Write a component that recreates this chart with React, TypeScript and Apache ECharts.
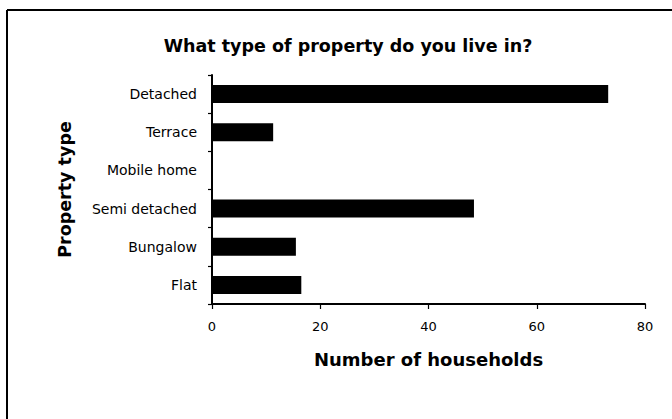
import React, { useEffect, useRef } from "react";
import * as echarts from "echarts";

const categories = ["Flat", "Bungalow", "Semi detached", "Mobile home", "Terrace", "Detached"];
const households = [16.5, 15.5, 48.4, 0, 11.3, 73.2];
const xTicks = { min: 0, max: 80, interval: 20 };
const titleText = "What type of property do you live in?";
const xAxisName = "Number of households";
const yAxisName = "Property type";

export default function App() {
  const ref = useRef<HTMLDivElement>(null);
  useEffect(() => {
    if (!ref.current) return;
    const chart = echarts.init(ref.current, undefined, { renderer: "svg" });
    const font = "'DejaVu Sans', Verdana, sans-serif";
    chart.setOption({
      animation: false,
      backgroundColor: "#fff",
      textStyle: { fontFamily: font, color: "#000" },
      title: {
        text: titleText,
        left: 343,
        top: 32,
        textAlign: "center",
        textStyle: { fontFamily: font, fontSize: 17.5, fontWeight: "bold", color: "#000" },
      },
      grid: { left: 212, right: 27, top: 75, bottom: 115, containLabel: false },
      xAxis: {
        type: "value",
        min: xTicks.min,
        max: xTicks.max,
        interval: xTicks.interval,
        splitLine: { show: false },
        axisLine: { show: true, lineStyle: { color: "#000", width: 2 } },
        axisTick: { show: true, length: 5, lineStyle: { color: "#000", width: 1.2 } },
        axisLabel: { fontSize: 13, color: "#000", fontFamily: font, margin: 16 },
        name: xAxisName,
        nameLocation: "middle",
        nameGap: 46,
        nameTextStyle: { fontSize: 18, fontWeight: "bold", color: "#000", fontFamily: font },
      },
      yAxis: {
        type: "category",
        data: categories,
        axisLine: { show: true, lineStyle: { color: "#000", width: 2 } },
        axisTick: { show: true, length: 4, lineStyle: { color: "#000", width: 1.2 } },
        axisLabel: { fontSize: 14, color: "#000", fontFamily: font, margin: 15 },
        name: yAxisName,
        nameLocation: "middle",
        nameGap: 138,
        nameRotate: 90,
        nameTextStyle: { fontSize: 17.5, fontWeight: "bold", color: "#000", fontFamily: font },
      },
      series: [
        {
          type: "bar",
          data: households,
          barWidth: 18,
          itemStyle: { color: "#000" },
        },
      ],
      graphic: [
        {
          type: "line",
          shape: { x1: 7, y1: 10, x2: 672, y2: 10 },
          style: { stroke: "#000", lineWidth: 2 },
          silent: true,
        },
        {
          type: "line",
          shape: { x1: 7, y1: 10, x2: 7, y2: 419 },
          style: { stroke: "#000", lineWidth: 2 },
          silent: true,
        },
      ],
    });
    return () => chart.dispose();
  }, []);
  return (
    <div
      ref={ref}
      style={{ position: "absolute", left: 0, top: 0, width: 672, height: 419 }}
    />
  );
}
